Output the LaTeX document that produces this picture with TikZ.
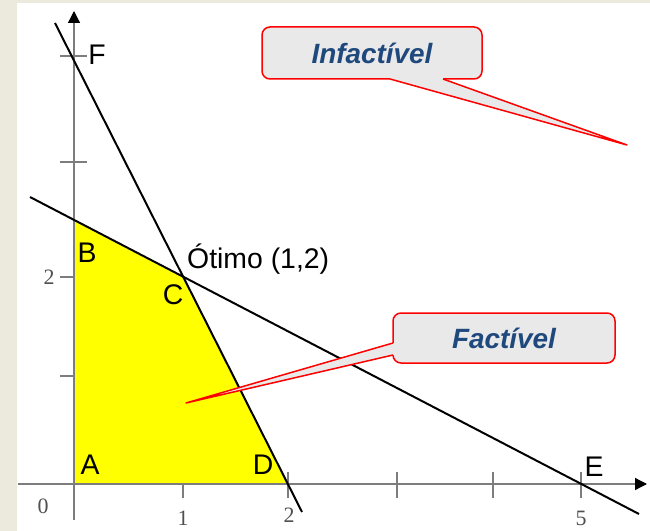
\documentclass[tikz,border=0pt]{standalone}
\usepackage{fontspec}
\setmainfont{Liberation Sans}
\newfontfamily\numfont{Liberation Serif}
\usetikzlibrary{arrows.meta}
\definecolor{framebeige}{RGB}{236,233,221}
\definecolor{feasyellow}{RGB}{255,255,0}
\definecolor{calloutgray}{RGB}{233,233,233}
\definecolor{calloutblue}{RGB}{31,73,125}
\definecolor{axisgray}{RGB}{125,125,125}
\definecolor{numgray}{RGB}{80,80,80}

\begin{document}
\begin{tikzpicture}[x=1bp, y=-1bp,
  axis/.style={draw=axisgray, line width=1.3bp,
               -{Triangle[color=black, length=12bp, width=12bp]}},
  tick/.style={draw=axisgray, line width=1.2bp},
  constr/.style={draw=black, line width=2bp},
  lbl/.style={inner sep=0pt, font=\fontsize{28.5}{28.5}\selectfont},
  num/.style={inner sep=0pt, text=numgray, font=\numfont\fontsize{22}{22}\selectfont},
  callout/.style={rectangle, rounded corners=8bp, draw=red, line width=1.5bp,
                  fill=calloutgray, text=calloutblue, inner sep=0pt,
                  font=\bfseries\itshape\fontsize{28}{28}\selectfont},
  pointer/.style={draw=red, line width=1.5bp, line join=round}
]
  \useasboundingbox (0,0) rectangle (650,531);
  \fill[framebeige] (0,0) rectangle (650,531);
  \fill[white] (17,3) rectangle (650,531);

  % key points
  \coordinate (O) at (74,484);
  \coordinate (A) at (74,484);
  \coordinate (B) at (74,220);
  \coordinate (C) at (183,277);
  \coordinate (D) at (288,484);
  \coordinate (E) at (581,484);

  % ticks
  \foreach \tx in {183,288,397,493,581}
    \draw[tick] (\tx,472) -- (\tx,498);
  \foreach \ty in {56,162}
    \draw[tick] (60,\ty) -- (87,\ty);
  \foreach \ty in {277,376}
    \draw[tick] (60,\ty) -- (75,\ty);

  % feasible region
  \fill[feasyellow] (A) -- (B) -- (C) -- (D) -- cycle;

  % axes
  \coordinate (xs) at (18,484);
  \coordinate (xe) at (647,484);
  \coordinate (ys) at (74,520);
  \coordinate (ye) at (74,11);
  \draw[axis] (xs) -- (xe);
  \draw[axis] (ys) -- (ye);

  % constraints
  \coordinate (r1s) at (55,23);
  \coordinate (r1e) at (302,512);
  \coordinate (r2s) at (30,197);
  \coordinate (r2e) at (639,514);
  \draw[constr] (r1s) -- (r1e);
  \draw[constr] (r2s) -- (r2e);

  % vertex labels
  \node[lbl] (lF) at (97,55)  {F};
  \node[lbl] (lB) at (87,253) {B};
  \node[lbl] (lC) at (173,295) {C};
  \node[lbl] (lA) at (90,465) {A};
  \node[lbl] (lD) at (263,465) {D};
  \node[lbl] (lE) at (594,467) {E};
  \node[lbl, anchor=base west] (otimo) at (187,268) {Ótimo (1,2)};

  % axis numbers
  \node[num] (n0)  at (43,506)  {0};
  \node[num] (n1)  at (183,518) {1};
  \node[num] (n2)  at (289,515) {2};
  \node[num] (n5)  at (581,518) {5};
  \node[num] (ny2) at (49,277)  {2};

  % callouts
  \node[callout, minimum width=220bp, minimum height=52bp] (infact) at (372,53) {Infactível};
  \coordinate (itip) at (627,145);
  \fill[calloutgray] (390,75) -- (390,79) -- (itip) -- (443,79) -- (443,75) -- cycle;
  \draw[pointer] (390,79) -- (itip) -- (443,79);

  \node[callout, minimum width=222bp, minimum height=50bp] (fact) at (504,338) {Factível};
  \coordinate (ftip) at (186,403);
  \fill[calloutgray] (397,343) -- (393,343) -- (ftip) -- (393,355) -- (397,355) -- cycle;
  \draw[pointer] (393,343) -- (ftip) -- (393,355);
\end{tikzpicture}
\end{document}
